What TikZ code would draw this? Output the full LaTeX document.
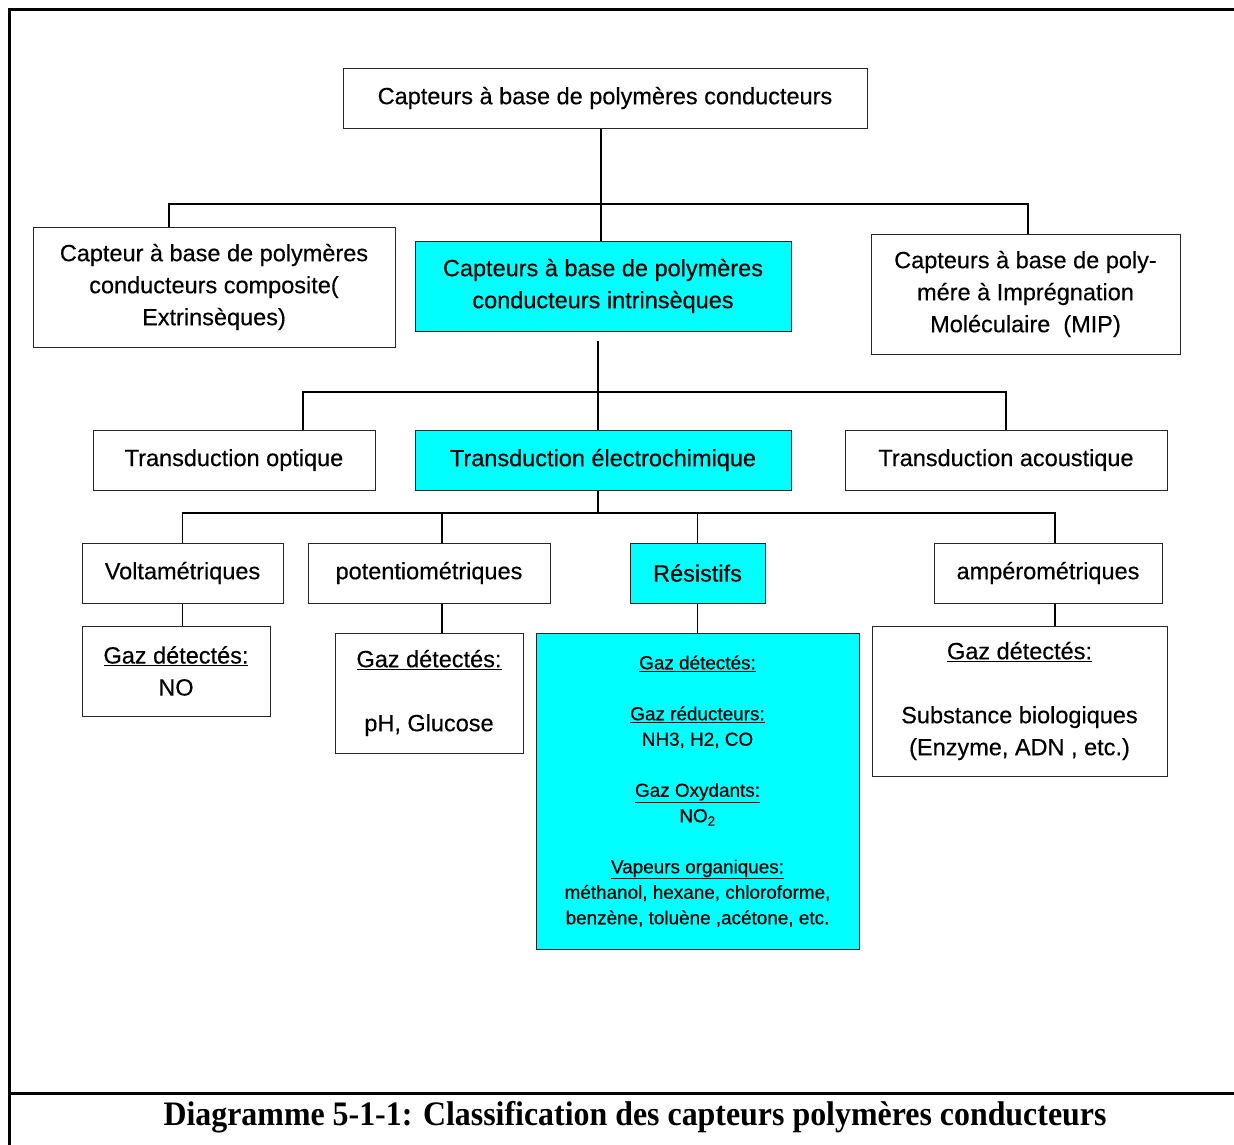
\documentclass[tikz,border=0pt]{standalone}
\usepackage{fontspec}
\setmainfont{Liberation Sans}[FakeBold=0.4]
\newfontfamily\capfont{Liberation Serif}[FakeStretch=0.93]
\definecolor{aqua}{RGB}{0,255,255}
\begin{document}
\begin{tikzpicture}[x=1pt,y=-1pt,
  box/.style={draw=black!85, line width=1pt, inner sep=0pt, align=center,
    font=\fontsize{23.5}{32}\selectfont},
  hl/.style={box, fill=aqua},
  link/.style={draw=black, line width=1.4pt},
  frameline/.style={line width=3pt, line cap=rect}]
\useasboundingbox (0,0) rectangle (1234,1144);

% page frame and caption rule
\draw[frameline] (9,1144) -- (9,9) -- (1234,9);
\draw[frameline] (9,1093) -- (1234,1093);
\node[font=\capfont\bfseries\fontsize{34.3}{36}\selectfont] (cap) at (635,1117)
  {Diagramme 5-1-1: Classification des capteurs polymères conducteurs};

% level 0
\node[box, minimum width=524, minimum height=60] (top) at (605,98)
  {Capteurs à base de polymères conducteurs};

% level 1
\node[box, minimum width=362, minimum height=120] (comp) at (214,287)
  {Capteur à base de polymères\\conducteurs composite(\\Extrinsèques)};
\node[hl, minimum width=376, minimum height=90] (intr) at (603,286)
  {Capteurs à base de polymères\\conducteurs intrinsèques};
\node[box, minimum width=309, minimum height=120] (mip) at (1025.5,294)
  {Capteurs à base de poly-\\mére à Imprégnation\\Moléculaire~~(MIP)};

% level 2
\node[box, minimum width=282, minimum height=60] (opt) at (234,460)
  {Transduction optique};
\node[hl, minimum width=376, minimum height=60] (elec) at (603,460)
  {Transduction électrochimique};
\node[box, minimum width=322, minimum height=60] (acou) at (1006,460)
  {Transduction acoustique};

% level 3
\node[box, minimum width=201, minimum height=60] (volt) at (182.5,573)
  {Voltamétriques};
\node[box, minimum width=242, minimum height=60] (pot) at (429,573)
  {potentiométriques};
\node[hl, minimum width=135, minimum height=60] (res) at (697.5,573)
  {Résistifs};
\node[box, minimum width=228, minimum height=60] (amp) at (1048,573)
  {ampérométriques};

% level 4: detected species
\node[box, minimum width=188, minimum height=90] (gno) at (176,671)
  {\underline{Gaz détectés:}\\NO};
\node[box, minimum width=188, minimum height=120] (gph) at (429,693)
  {\underline{Gaz détectés:}\\[32pt]pH, Glucose};
\node[hl, minimum width=323, minimum height=316,
  font=\fontsize{18.9}{25.5}\selectfont] (gres) at (697.5,791)
  {\underline{Gaz détectés:}\\[25.5pt]
   \underline{Gaz réducteurs:}\\NH3, H2, CO\\[25.5pt]
   \underline{Gaz Oxydants:}\\NO\textsubscript{2}\\[25.5pt]
   \underline{Vapeurs organiques:}\\méthanol, hexane, chloroforme,\\
   benzène, toluène ,acétone, etc.};
\node[box, minimum width=295, minimum height=150] (gbio) at (1019.5,701)
  {\underline{Gaz détectés:}\\[32pt]Substance biologiques\\(Enzyme, ADN , etc.)};

% bus coordinates
\coordinate (b1) at (601,204);
\coordinate (b2) at (598,392);
\coordinate (b3) at (598,513);

% connectors: level 0 -> 1
\draw[link] (top.south -| b1) -- (b1 |- intr.north);
\draw[link] ([xshift=-45pt]comp.north) |- (b1) -| ([xshift=2.5pt]mip.north);

% level 1 -> 2
\draw[link] ([yshift=-9pt]intr.south -| b2) -- (b2 |- elec.north);
\draw[link] ([xshift=69pt]opt.north) |- (b2) -| (acou.north);

% level 2 -> 3
\draw[link] (elec.south -| b3) -- (b3);
\draw[link] (volt.north) |- (b3) -| ([xshift=7pt]amp.north);
\draw[link] ([xshift=13pt]pot.north) -- ([xshift=13pt]pot.north |- b3);
\draw[link] (res.north) -- (res.north |- b3);

% level 3 -> 4
\draw[link] (volt.south) -- (volt.south |- gno.north);
\draw[link] ([xshift=13pt]pot.south) -- ([xshift=13pt]pot.south |- gph.north);
\draw[link] (res.south) -- (gres.north);
\draw[link] ([xshift=7pt]amp.south) -- ([xshift=7pt]amp.south |- gbio.north);
\end{tikzpicture}
\end{document}
